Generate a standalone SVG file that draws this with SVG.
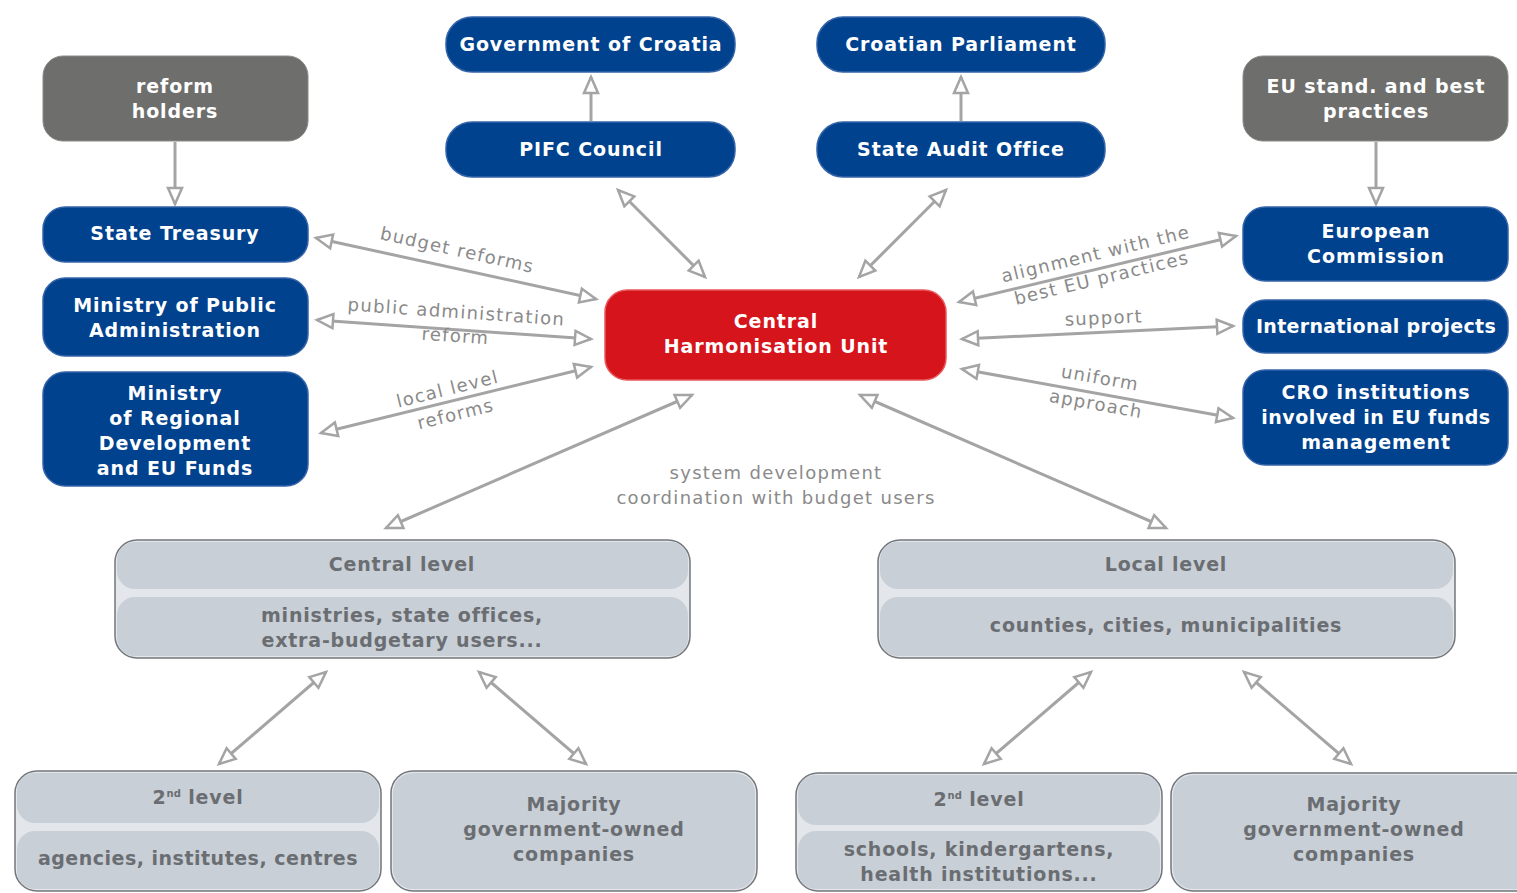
<svg xmlns="http://www.w3.org/2000/svg" width="1517" height="893" viewBox="0 0 1517 893">
<defs>
<marker id="ah" markerUnits="userSpaceOnUse" markerWidth="22" markerHeight="22" viewBox="0 0 22 22" refX="19" refY="11" orient="auto-start-reverse">
<path d="M3,4 L19,11 L3,18 Z" fill="#ffffff" stroke="#a4a4a4" stroke-width="2.5" stroke-linejoin="miter"/>
</marker>
<style>
.blue rect{fill:#00428e;stroke:#3564a8;stroke-width:1.5}
.dark rect{fill:#6e6e6c;stroke:#8a8a88;stroke-width:1}
.red rect{fill:#d6141b;stroke:#e8585c;stroke-width:1.5}
.nt{font-family:"DejaVu Sans",Verdana,sans-serif;font-weight:bold;font-size:19px;letter-spacing:0.9px;fill:#ffffff;text-anchor:middle}
.lt .outer{fill:#e3e7eb;stroke:#73777b;stroke-width:1.5}
.lt .band{fill:#c9cfd6}
.gt{font-family:"DejaVu Sans",Verdana,sans-serif;font-weight:bold;font-size:19px;letter-spacing:0.8px;fill:#6a6e72;text-anchor:middle}
.sup{font-size:10px;letter-spacing:0}
.con line{stroke:#a4a4a4;stroke-width:3;fill:none}
.c2{marker-start:url(#ah);marker-end:url(#ah)}
.c1{marker-end:url(#ah)}
.lab{font-family:"DejaVu Sans",Verdana,sans-serif;font-size:18px;letter-spacing:1.3px;fill:#8a8a8a;text-anchor:middle}
</style>
</defs>
<rect width="1517" height="893" fill="#ffffff"/>

<g id="connectors" class="con">
<line class="c1" x1="175" y1="142" x2="175" y2="204"/>
<line class="c1" x1="591" y1="121" x2="591" y2="77"/>
<line class="c1" x1="961" y1="121" x2="961" y2="77"/>
<line class="c1" x1="1376" y1="142" x2="1376" y2="204"/>
<line class="c2" x1="618" y1="190" x2="705" y2="277"/>
<line class="c2" x1="946" y1="190" x2="859" y2="277"/>
<line class="c2" x1="316" y1="238" x2="596" y2="299"/>
<line class="c2" x1="317" y1="320" x2="591" y2="339"/>
<line class="c2" x1="321" y1="433" x2="591" y2="367"/>
<line class="c2" x1="959" y1="302" x2="1236" y2="236"/>
<line class="c2" x1="962" y1="339" x2="1233" y2="326"/>
<line class="c2" x1="962" y1="369" x2="1233" y2="418"/>
<line class="c2" x1="692" y1="395" x2="386" y2="528"/>
<line class="c2" x1="860" y1="395" x2="1166" y2="528"/>
<line class="c2" x1="326" y1="672" x2="219" y2="764"/>
<line class="c2" x1="479" y1="672" x2="586" y2="764"/>
<line class="c2" x1="1091" y1="672" x2="984" y2="764"/>
<line class="c2" x1="1244" y1="672" x2="1351" y2="764"/>
</g>

<g id="labels">
<text class="lab" transform="translate(456,256) rotate(12.5)">budget reforms</text>
<text class="lab" transform="translate(456,318) rotate(4)">public administration</text>
<text class="lab" transform="translate(455,342) rotate(4)">reform</text>
<text class="lab" transform="translate(449,395) rotate(-14)">local level</text>
<text class="lab" transform="translate(457,420) rotate(-14)">reforms</text>
<text class="lab" transform="translate(1097,260) rotate(-13.5)">alignment with the</text>
<text class="lab" transform="translate(1103,284) rotate(-13.5)">best EU practices</text>
<text class="lab" transform="translate(1104,324) rotate(-2.5)">support</text>
<text class="lab" transform="translate(1099,384) rotate(10)">uniform</text>
<text class="lab" transform="translate(1095,410) rotate(10)">approach</text>
<text class="lab" x="776" y="479">system development</text>
<text class="lab" x="776" y="504">coordination with budget users</text>
</g>

<g id="reform-holders" class="dark"><rect x="43" y="56" width="265" height="85" rx="20"/><text class="nt" x="175" y="93">reform</text><text class="nt" x="175" y="118">holders</text></g>
<g id="eu-standards" class="dark"><rect x="1243" y="56" width="265" height="85" rx="20"/><text class="nt" x="1376" y="93">EU stand. and best</text><text class="nt" x="1376" y="118">practices</text></g>

<g id="government" class="blue"><rect x="446" y="17" width="289" height="55" rx="26"/><text class="nt" x="591" y="51">Government of Croatia</text></g>
<g id="pifc-council" class="blue"><rect x="446" y="122" width="289" height="55" rx="26"/><text class="nt" x="591" y="156">PIFC Council</text></g>
<g id="parliament" class="blue"><rect x="817" y="17" width="288" height="55" rx="26"/><text class="nt" x="961" y="51">Croatian Parliament</text></g>
<g id="state-audit" class="blue"><rect x="817" y="122" width="288" height="55" rx="26"/><text class="nt" x="961" y="156">State Audit Office</text></g>

<g id="state-treasury" class="blue"><rect x="43" y="207" width="265" height="55" rx="22"/><text class="nt" x="175" y="240">State Treasury</text></g>
<g id="ministry-public-admin" class="blue"><rect x="43" y="278" width="265" height="78" rx="22"/><text class="nt" x="175" y="312">Ministry of Public</text><text class="nt" x="175" y="337">Administration</text></g>
<g id="ministry-regional" class="blue"><rect x="43" y="372" width="265" height="114" rx="22"/><text class="nt" x="175" y="400">Ministry</text><text class="nt" x="175" y="425">of Regional</text><text class="nt" x="175" y="450">Development</text><text class="nt" x="175" y="475">and EU Funds</text></g>

<g id="chu" class="red"><rect x="605" y="290" width="341" height="90" rx="22"/><text class="nt" x="776" y="328">Central</text><text class="nt" x="776" y="353">Harmonisation Unit</text></g>

<g id="european-commission" class="blue"><rect x="1243" y="207" width="265" height="74" rx="22"/><text class="nt" x="1376" y="238">European</text><text class="nt" x="1376" y="263">Commission</text></g>
<g id="international-projects" class="blue"><rect x="1243" y="300" width="265" height="53" rx="22"/><text class="nt" x="1376" y="333" style="letter-spacing:0.3px">International projects</text></g>
<g id="cro-institutions" class="blue"><rect x="1243" y="370" width="265" height="95" rx="22"/><text class="nt" x="1376" y="399">CRO institutions</text><text class="nt" x="1376" y="424" style="letter-spacing:0.5px">involved in EU funds</text><text class="nt" x="1376" y="449">management</text></g>

<g id="central-level" class="lt"><rect class="outer" x="115" y="540" width="575" height="118" rx="22"/><rect class="band" x="117" y="542" width="571" height="47" rx="18"/><rect class="band" x="117" y="597" width="571" height="59" rx="18"/><text class="gt" x="402" y="571">Central level</text><text class="gt" x="402" y="622">ministries, state offices,</text><text class="gt" x="402" y="647">extra-budgetary users...</text></g>
<g id="local-level" class="lt"><rect class="outer" x="878" y="540" width="577" height="118" rx="22"/><rect class="band" x="880" y="542" width="573" height="47" rx="18"/><rect class="band" x="880" y="597" width="573" height="59" rx="18"/><text class="gt" x="1166" y="571">Local level</text><text class="gt" x="1166" y="632">counties, cities, municipalities</text></g>

<g id="second-level-central" class="lt"><rect class="outer" x="15" y="771" width="366" height="120" rx="22"/><rect class="band" x="17" y="773" width="362" height="50" rx="18"/><rect class="band" x="17" y="831" width="362" height="58" rx="18"/><text class="gt" x="198" y="804">2<tspan class="sup" dy="-7">nd</tspan><tspan dy="7"> level</tspan></text><text class="gt" x="198" y="865" style="letter-spacing:0.5px">agencies, institutes, centres</text></g>
<g id="majority-central" class="lt"><rect class="outer" x="391" y="771" width="366" height="120" rx="22"/><rect class="band" x="393" y="773" width="362" height="116" rx="20"/><text class="gt" x="574" y="811">Majority</text><text class="gt" x="574" y="836">government-owned</text><text class="gt" x="574" y="861">companies</text></g>
<g id="second-level-local" class="lt"><rect class="outer" x="796" y="773" width="366" height="118" rx="22"/><rect class="band" x="798" y="775" width="362" height="50" rx="18"/><rect class="band" x="798" y="831" width="362" height="58" rx="18"/><text class="gt" x="979" y="806">2<tspan class="sup" dy="-7">nd</tspan><tspan dy="7"> level</tspan></text><text class="gt" x="979" y="856">schools, kindergartens,</text><text class="gt" x="979" y="881">health institutions...</text></g>
<g id="majority-local" class="lt"><rect class="outer" x="1171" y="773" width="366" height="118" rx="22"/><rect class="band" x="1173" y="775" width="362" height="114" rx="20"/><text class="gt" x="1354" y="811">Majority</text><text class="gt" x="1354" y="836">government-owned</text><text class="gt" x="1354" y="861">companies</text></g>
</svg>
